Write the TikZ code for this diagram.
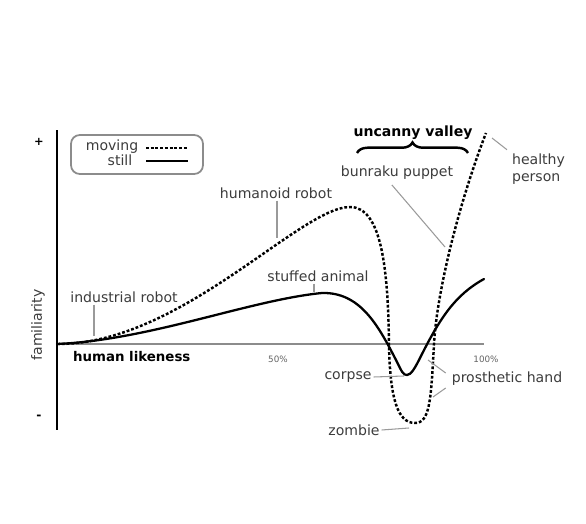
\documentclass[tikz,border=0pt]{standalone}
\usepackage{fontspec}
\setmainfont{DejaVu Sans}
\usetikzlibrary{positioning,decorations.pathreplacing}
\definecolor{txtgray}{HTML}{3C3C3C}
\definecolor{leadgray}{HTML}{9A9A9A}
\definecolor{axisgray}{HTML}{8C8C8C}
\tikzstyle{lbl} = [inner sep=1pt,text=txtgray,font=\fontsize{8}{9.5}\selectfont]
\tikzstyle{tiny} = [inner sep=1pt,text=txtgray!80,font=\fontsize{5}{6}\selectfont]
\tikzstyle{bold} = [inner sep=1pt,font=\fontsize{7.6}{9}\selectfont\bfseries]
\tikzstyle{lead} = [-,draw=leadgray,line width=0.6pt]
\tikzstyle{still} = [line width=1.3pt,line cap=round]
\tikzstyle{moving} = [line width=1.4pt,dash pattern=on 1.6pt off 1.1pt]

\begin{document}
\begin{tikzpicture}[x=0.02cm,y=-0.02cm]
      \useasboundingbox (0,0) rectangle (586,524);
      % axes
      \coordinate (o) at (57,344);
      \coordinate (ytop) at (57,130);
      \coordinate (ybot) at (57,430);
      \coordinate (xend) at (484,344);
      \draw[draw=axisgray,line width=0.7pt] (o) -- (xend);
      \draw[line width=1.1pt] (ytop) -- (ybot);
      \node[bold] (plus) at (39,142) {\fontsize{6.5}{7}\selectfont+};
      \node[bold] (minus) at (39,417) {\fontsize{7}{7}\selectfont-};
      \node[lbl,rotate=90] (fam) at (38,325) {familiarity};
      \node[bold,anchor=west] (hl) at (71,357) {human likeness};
      \node[tiny] (half) at (278,359) {50\%};
      \node[tiny] (full) at (486,359) {100\%};
      % legend
      \draw[draw=axisgray,line width=1pt,rounded corners=5] (71,135) rectangle (203,174);
      \node[lbl] (mov) at (112,147) {moving};
      \node[lbl] (sti) at (120,160) {still};
      \coordinate (m1) at (146,148);
      \coordinate (m2) at (188,148);
      \coordinate (s1) at (146,161);
      \coordinate (s2) at (188,161);
      \draw[moving,line width=1.1pt] (m1) -- (m2);
      \draw[line width=0.8pt] (s1) -- (s2);
      % curves
      \draw[still] (o) .. controls (150,340) and (250,300) .. (322,293)
            .. controls (360,292) and (378,325) .. (396,360)
            .. controls (402,372) and (403,375) .. (407,375)
            .. controls (411,375) and (415,368) .. (420,358)
            .. controls (440,318) and (455,295) .. (484,279);
      \draw[moving] (o) .. controls (180,345) and (300,207) .. (350,207)
            .. controls (382,207) and (388,270) .. (389,344)
            .. controls (390,400) and (398,423) .. (415,423)
            .. controls (430,423) and (431,400) .. (434,344)
            .. controls (437,290) and (460,200) .. (486,133);
      % points on the curves
      \coordinate (ir) at (94,336);
      \coordinate (hr) at (277,238);
      \coordinate (sa) at (314,292);
      \coordinate (bp) at (445,247);
      \coordinate (hp) at (492,138);
      \coordinate (co) at (404,376);
      \coordinate (ph1) at (428,360);
      \coordinate (ph2) at (433,397);
      \coordinate (zo) at (409,428);
      % labels
      \node[lbl] (ind) at (124,297) {industrial robot};
      \node[lbl] (hum) at (276,193) {humanoid robot};
      \node[lbl] (stu) at (318,276) {stuffed animal};
      \node[lbl] (bun) at (397,173) {bunraku puppet};
      \node[lbl,anchor=west,align=left] (hea) at (510,169) {healthy\\person};
      \node[lbl] (cor) at (348,377) {corpse};
      \node[lbl] (pro) at (507,379) {prosthetic hand};
      \node[lbl] (zom) at (354,430) {zombie};
      \node[bold,font=\fontsize{8}{9}\selectfont\bfseries] (uv) at (413,133) {uncanny valley};
      \coordinate (b1) at (357,153);
      \coordinate (b2) at (468,153);
      \draw[line width=1.4pt,decorate,decoration={brace,amplitude=6pt}] (b1) -- (b2);
      % leaders
      \draw[lead] (ind.south -| ir) -- (ir);
      \draw[lead] (hum.south -| hr) -- (hr);
      \draw[lead] (stu.south -| sa) -- (sa);
      \draw[lead] (bun.south west) ++(53,3) coordinate (bq) (bq) -- (bp);
      \draw[lead] (hea.north west) ++(-3,-2) coordinate (hq) (hq) -- (hp);
      \draw[lead] (cor.east) -- (co);
      \draw[lead] (pro.west) ++(-4,-6) coordinate (pa) (pa) -- (ph1);
      \draw[lead] (pro.west) ++(-4,9) coordinate (pb) (pb) -- (ph2);
      \draw[lead] (zom.east) -- (zo);
\end{tikzpicture}
\end{document}
